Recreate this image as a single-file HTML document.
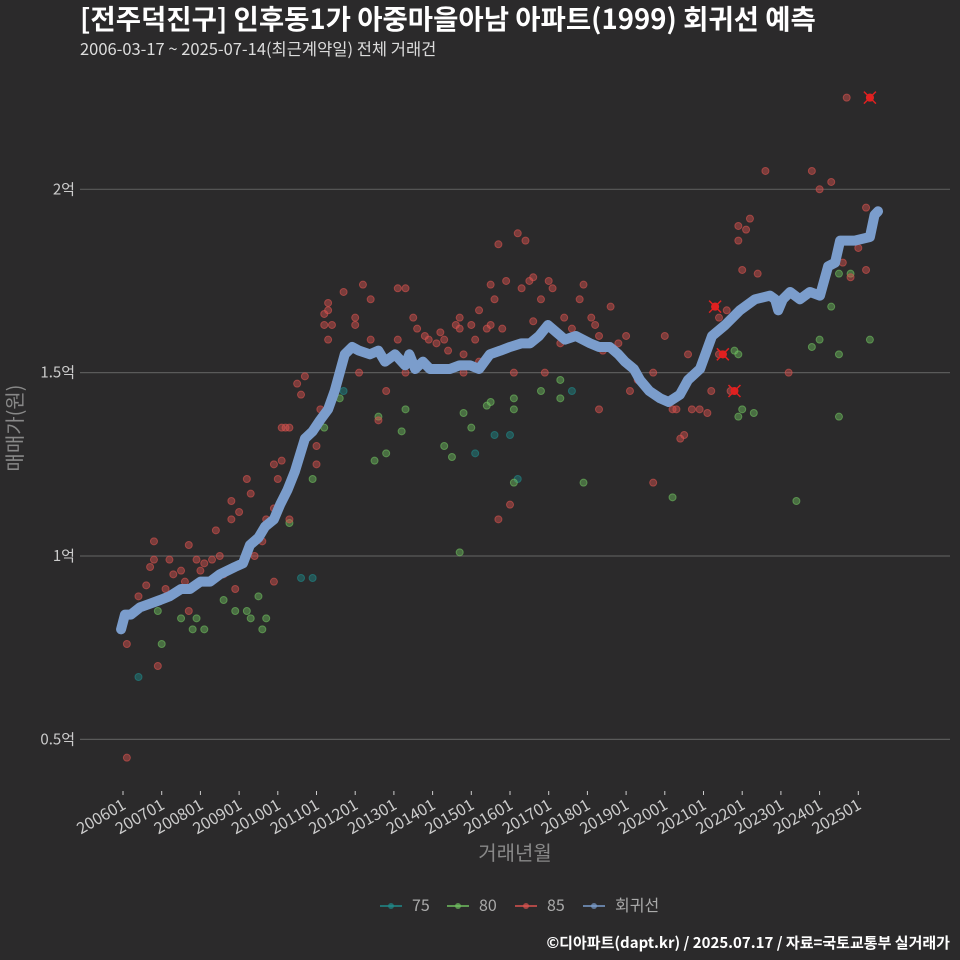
<!DOCTYPE html>
<html><head><meta charset="utf-8"><style>
body{margin:0;background:#2b2a2b;}
svg{display:block;font-family:"Noto Sans CJK KR","Liberation Sans",sans-serif;}
</style></head><body>
<svg id="c" width="960" height="960" viewBox="0 0 960 960">
<rect width="960" height="960" fill="#2b2a2b"/>
<text x="80" y="29" fill="#fff" font-size="27.5" font-weight="bold">[전주덕진구] 인후동1가 아중마을아남 아파트(1999) 회귀선 예측</text>
<text x="80" y="55" fill="#ddd" font-size="16.5">2006-03-17 ~ 2025-07-14(최근계약일) 전체 거래건</text>
<g id="grid"></g>
<g id="marks"></g>
<g id="xaxis"></g>
<text transform="translate(22,428) rotate(-90)" text-anchor="middle" fill="#888" font-size="20">매매가(원)</text>
<text x="515" y="860" text-anchor="middle" fill="#888" font-size="20">거래년월</text>
<g id="legend"></g>
<text x="950" y="948" text-anchor="end" fill="#fff" font-size="15" font-weight="bold">©디아파트(dapt.kr) / 2025.07.17 / 자료=국토교통부 실거래가</text>
</svg>
<script>
const yTicks=[0.5,1,1.5,2];
const yTickLabels=["0.5억","1억","1.5억","2억"];
const xTickYears=[2006,2007,2008,2009,2010,2011,2012,2013,2014,2015,2016,2017,2018,2019,2020,2021,2022,2023,2024,2025];
const xTickLabels=["200601","200701","200801","200901","201001","201101","201201","201301","201401","201501","201601","201701","201801","201901","202001","202101","202201","202301","202401","202501"];
const regYears=[2005.95,2006.05,2006.2,2006.44,2006.7,2006.96,2007.2,2007.5,2007.73,2008.0,2008.25,2008.5,2008.89,2009.1,2009.28,2009.5,2009.67,2009.9,2010.06,2010.25,2010.44,2010.70,2010.9,2011.09,2011.3,2011.47,2011.73,2011.92,2012.1,2012.38,2012.6,2012.77,2013.03,2013.29,2013.4,2013.55,2013.75,2013.93,2014.2,2014.45,2014.7,2014.97,2015.2,2015.48,2015.75,2016.00,2016.3,2016.52,2016.75,2016.98,2017.2,2017.42,2017.7,2018.07,2018.3,2018.58,2018.8,2018.97,2019.2,2019.36,2019.6,2019.88,2020.1,2020.39,2020.6,2020.91,2021.22,2021.56,2021.94,2022.33,2022.72,2022.85,2022.93,2023.05,2023.24,2023.49,2023.75,2024.01,2024.22,2024.4,2024.53,2024.91,2025.30,2025.42,2025.51];
const regValues=[0.80,0.84,0.84,0.86,0.87,0.88,0.89,0.91,0.91,0.93,0.93,0.95,0.97,0.98,1.03,1.05,1.08,1.10,1.14,1.18,1.23,1.32,1.34,1.37,1.40,1.45,1.55,1.57,1.56,1.55,1.56,1.53,1.55,1.52,1.55,1.51,1.53,1.51,1.51,1.51,1.52,1.52,1.51,1.55,1.56,1.57,1.58,1.58,1.60,1.63,1.61,1.59,1.60,1.58,1.57,1.57,1.55,1.53,1.51,1.48,1.45,1.43,1.42,1.44,1.48,1.51,1.60,1.63,1.67,1.70,1.71,1.70,1.67,1.70,1.72,1.70,1.72,1.71,1.79,1.80,1.86,1.86,1.87,1.93,1.94];
const s85Years=[2006.1,2006.1,2006.4,2006.6,2006.7,2006.8,2006.8,2006.9,2007.1,2007.2,2007.3,2007.5,2007.6,2007.7,2007.7,2007.9,2007.9,2008.0,2008.1,2008.3,2008.4,2008.5,2008.6,2008.8,2008.8,2008.9,2009.0,2009.2,2009.3,2009.4,2009.6,2009.7,2009.9,2009.9,2010.0,2010.1,2010.1,2010.2,2010.3,2009.9,2010.3,2010.5,2010.6,2010.7,2011.0,2011.0,2011.1,2011.2,2011.2,2011.3,2011.3,2011.3,2011.4,2011.7,2012.0,2012.0,2012.2,2012.4,2012.1,2012.4,2012.6,2012.8,2013.1,2013.3,2013.1,2013.3,2013.5,2013.6,2013.8,2013.9,2014.1,2014.2,2014.3,2014.4,2014.6,2014.7,2014.7,2014.8,2014.8,2015.0,2015.1,2015.2,2015.2,2015.4,2015.5,2015.5,2015.6,2015.7,2015.7,2015.8,2015.9,2016.0,2016.1,2016.2,2016.3,2016.4,2016.5,2016.6,2016.6,2016.8,2016.9,2017.0,2017.1,2017.3,2017.4,2017.6,2017.8,2017.9,2018.1,2018.2,2018.3,2018.3,2018.4,2018.6,2018.6,2018.8,2019.0,2019.1,2019.3,2019.7,2019.7,2020.0,2020.2,2020.3,2020.4,2020.5,2020.6,2020.7,2020.9,2021.1,2021.2,2021.3,2021.4,2021.4,2021.5,2021.6,2021.7,2021.9,2021.9,2022.0,2022.1,2022.2,2022.4,2022.6,2023.2,2023.8,2024.0,2024.3,2024.6,2024.7,2024.8,2025.0,2025.2,2025.2,2025.3];
const s85Values=[0.45,0.76,0.89,0.92,0.97,0.99,1.04,0.70,0.91,0.99,0.95,0.96,0.93,0.85,1.03,0.99,0.92,0.96,0.98,0.99,1.07,1.00,0.95,1.10,1.15,0.91,1.12,1.21,1.17,1.00,1.04,1.10,1.13,1.25,1.21,1.35,1.26,1.35,1.35,0.93,1.10,1.47,1.44,1.49,1.30,1.25,1.40,1.63,1.66,1.69,1.59,1.67,1.63,1.72,1.65,1.63,1.74,1.70,1.50,1.59,1.37,1.45,1.73,1.73,1.59,1.50,1.65,1.62,1.60,1.59,1.58,1.61,1.59,1.56,1.63,1.62,1.65,1.55,1.50,1.63,1.59,1.53,1.67,1.62,1.63,1.74,1.70,1.85,1.10,1.62,1.75,1.14,1.50,1.88,1.73,1.86,1.75,1.76,1.64,1.70,1.50,1.75,1.73,1.58,1.65,1.62,1.70,1.74,1.65,1.63,1.60,1.40,1.56,1.68,1.57,1.58,1.60,1.45,1.48,1.20,1.50,1.60,1.40,1.40,1.32,1.33,1.55,1.40,1.40,1.39,1.45,1.68,1.65,1.55,1.55,1.67,1.45,1.90,1.86,1.78,1.89,1.92,1.77,2.05,1.50,2.05,2.00,2.02,1.80,2.25,1.76,1.84,1.78,1.95,2.25];
const s80Years=[2006.9,2007.0,2007.5,2007.8,2007.9,2008.1,2008.6,2008.9,2009.2,2009.3,2009.5,2009.6,2009.7,2010.3,2010.9,2011.2,2011.6,2012.5,2012.6,2012.8,2013.2,2013.3,2014.3,2014.5,2014.7,2014.8,2015.0,2015.4,2015.5,2016.1,2016.1,2016.1,2016.8,2017.3,2017.3,2017.9,2020.2,2021.8,2021.9,2021.9,2022.0,2022.3,2023.4,2023.8,2024.0,2024.3,2024.5,2024.5,2024.5,2024.8,2025.3];
const s80Values=[0.85,0.76,0.83,0.80,0.83,0.80,0.88,0.85,0.85,0.83,0.89,0.80,0.83,1.09,1.21,1.35,1.43,1.26,1.38,1.28,1.34,1.40,1.30,1.27,1.01,1.39,1.35,1.41,1.42,1.20,1.40,1.43,1.45,1.48,1.43,1.20,1.16,1.56,1.55,1.38,1.40,1.39,1.15,1.57,1.59,1.68,1.77,1.55,1.38,1.77,1.59];
const s75Years=[2006.4,2010.6,2010.9,2011.7,2015.1,2015.6,2016.0,2016.2,2017.6];
const s75Values=[0.67,0.94,0.94,1.45,1.28,1.33,1.33,1.21,1.45];
const flagYears=[2021.3,2021.5,2021.8,2025.3];
const flagValues=[1.68,1.55,1.45,2.25];

const NS="http://www.w3.org/2000/svg";
const X=t=>123+(t-2006)*38.7;
const Y=v=>556-(v-1)*366.7;
function mk(tag,attrs,parent){const e=document.createElementNS(NS,tag);for(const k in attrs)e.setAttribute(k,attrs[k]);parent.appendChild(e);return e;}
const grid=document.getElementById('grid'),marks=document.getElementById('marks'),xaxis=document.getElementById('xaxis'),legend=document.getElementById('legend');
yTicks.forEach((v,i)=>{
  const l=mk('line',{x1:80,x2:950,y1:Y(v),y2:Y(v),stroke:'#5a5a5a','stroke-width':1.2},grid);
  
  
  const t=mk('text',{x:75,y:Y(v)+5,'text-anchor':'end',fill:'#ccc','font-size':15},grid);
  t.textContent=yTickLabels[i];
  
  
});
xTickYears.forEach((yr,i)=>{
  const x=X(yr);
  const tk=mk('line',{x1:x,x2:x,y1:791,y2:795,stroke:'#ccc','stroke-width':1},xaxis);
  
  
  const t=mk('text',{transform:`translate(${x+4},${808}) rotate(-30)`,'text-anchor':'end',fill:'#ccc','font-size':16},xaxis);
  t.textContent=xTickLabels[i];
  
  
});
function scatter(ys,vs,fill,name){
  ys.forEach((yr,i)=>{
    const c=mk('circle',{cx:X(yr),cy:Y(vs[i]),r:3.5,fill:fill,'fill-opacity':0.45,stroke:fill,'stroke-opacity':0.6,'stroke-width':1},marks);
    
    
  });
}
scatter(s75Years,s75Values,'#1f8a8a','point-75');
scatter(s80Years,s80Values,'#6fbf5f','point-80');
scatter(s85Years,s85Values,'#d9534f','point-85');
flagYears.forEach((yr,i)=>{
  const x=X(yr),y=Y(flagValues[i]);
  const g=mk('path',{d:`M${x-6},${y-6}L${x+6},${y+6}M${x-6},${y+6}L${x+6},${y-6}`,stroke:'#e02020','stroke-width':1.5},marks);
  
  
  const c=mk('circle',{cx:x,cy:y,r:4,fill:'#e02020'},marks);
  
  
});
const line=mk('polyline',{points:regYears.map((t,i)=>X(t)+','+Y(regValues[i])).join(' '),fill:'none',stroke:'#7b9dcc','stroke-width':10,'stroke-linejoin':'round','stroke-linecap':'round'},marks);


const legItems=[['75','#1f8a8a',380],['80','#6fbf5f',447],['85','#d9534f',515],['회귀선','#7b9dcc',583]];
legItems.forEach(([lab,col,x])=>{
  const g=mk('g',{},legend);
  
  
  mk('line',{x1:x,x2:x+22,y1:906,y2:906,stroke:col,'stroke-width':1.5},g);
  mk('circle',{cx:x+11,cy:906,r:3,fill:col,'fill-opacity':0.7},g);
  const t=mk('text',{x:x+32,y:911,fill:'#aaa','font-size':16},g);
  t.textContent=lab;
});
</script>
</body></html>
